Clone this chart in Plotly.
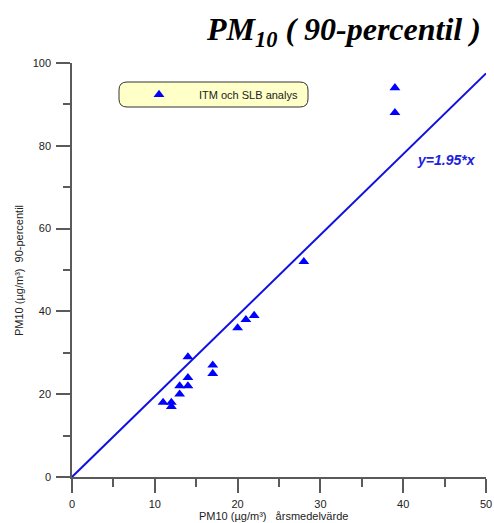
import plotly.graph_objects as go

# Measured PM10: annual mean (x) vs 90th percentile of daily means (y), µg/m³
annual_mean = [11, 12, 12, 13, 13, 14, 14, 14, 17, 17, 20, 21, 22, 28, 39, 39]
percentile_90 = [18, 18, 17, 20, 22, 22, 24, 29, 25, 27, 36, 38, 39, 52, 88, 94]

# Fitted proportional relation
slope = 1.95
fit_x = [0, 50]
fit_y = [slope * v for v in fit_x]

W, H = 494, 523
L, R, T, B = 72, 8, 63, 46
plot_w = W - L - R
plot_h = H - T - B


def px_to_paper(px, py):
    return (px - L) / plot_w, (H - B - py) / plot_h


axis_color = "#5a5a5a"
blue = "#0000ff"

fig = go.Figure()

fig.add_trace(go.Scatter(
    x=fit_x, y=fit_y, mode="lines",
    line=dict(color="#1010e0", width=2),
    showlegend=False, hoverinfo="skip",
))

fig.add_trace(go.Scatter(
    x=annual_mean, y=percentile_90, mode="markers",
    name="ITM och SLB analys",
    marker=dict(symbol="triangle-up", size=9.5, color=blue, line=dict(width=0)),
))

# Rounded legend frame
x0, y0 = px_to_paper(119, 82)
x1, y1 = px_to_paper(308, 107)
r = 8 / plot_w
path = (
    f"M {x0 + r},{y0} L {x1 - r},{y0} Q {x1},{y0} {x1},{y0 - r} "
    f"L {x1},{y1 + r} Q {x1},{y1} {x1 - r},{y1} "
    f"L {x0 + r},{y1} Q {x0},{y1} {x0},{y1 + r} "
    f"L {x0},{y0 - r} Q {x0},{y0} {x0 + r},{y0} Z"
)
fig.add_shape(type="path", path=path, xref="paper", yref="paper",
              fillcolor="#ffffc8", line=dict(color="#333333", width=1), layer="above")

lx, ly = px_to_paper(119, 94.5)

tx, ty = px_to_paper(483, 31)
ax_x, ax_y = px_to_paper(273, 516)
ay_x, ay_y = px_to_paper(19, 270)
eq_x, eq_y = px_to_paper(446.5, 159.5)

fig.update_layout(
    width=W, height=H,
    margin=dict(l=L, r=R, t=T, b=B),
    paper_bgcolor="white", plot_bgcolor="white",
    font=dict(family="Liberation Sans, Arial, sans-serif", size=11, color="#222222"),
    showlegend=True,
    legend=dict(
        x=lx, y=ly, xanchor="left", yanchor="middle",
        bgcolor="rgba(0,0,0,0)", borderwidth=0,
        itemwidth=70, font=dict(size=11, color="#222222"),
        itemclick=False,
    ),
    xaxis=dict(
        range=[0, 50], dtick=10, tick0=0, automargin=False,
        showgrid=False, zeroline=False,
        showline=True, linecolor=axis_color, linewidth=1.5,
        ticks="outside", ticklen=14, tickwidth=1.5, tickcolor=axis_color,
        ticklabelstandoff=2,
        minor=dict(dtick=5, ticks="outside", ticklen=8, tickwidth=1.5, tickcolor=axis_color),
        tickfont=dict(size=11, color="#222222"),
    ),
    yaxis=dict(
        range=[0, 100], dtick=20, tick0=0, automargin=False,
        showgrid=False, zeroline=False,
        showline=True, linecolor=axis_color, linewidth=1.5,
        ticks="outside", ticklen=14, tickwidth=1.5, tickcolor=axis_color,
        ticklabelstandoff=3,
        minor=dict(dtick=10, ticks="outside", ticklen=7, tickwidth=1.5, tickcolor=axis_color),
        tickfont=dict(size=11, color="#222222"),
    ),
    annotations=[
        dict(text="<b><i>PM<sub>10</sub> ( 90-percentil )</i></b>",
             x=tx, y=ty, xref="paper", yref="paper", xanchor="right", yanchor="middle",
             showarrow=False,
             font=dict(family="Liberation Serif, Times New Roman, serif", size=32, color="black")),
        dict(text="PM10 (µg/m³)   årsmedelvärde",
             x=ax_x, y=ax_y, xref="paper", yref="paper", xanchor="center", yanchor="middle",
             showarrow=False, font=dict(size=11, color="#222222")),
        dict(text="PM10 (µg/m³)  90-percentil",
             x=ay_x, y=ay_y, xref="paper", yref="paper", xanchor="center", yanchor="middle",
             textangle=-90, showarrow=False, font=dict(size=11, color="#222222")),
        dict(text=f"<b><i>y={slope}*x</i></b>",
             x=eq_x, y=eq_y, xref="paper", yref="paper", xanchor="center", yanchor="middle",
             showarrow=False, font=dict(size=14, color="#2020dd")),
    ],
)

fig.write_html("out.html")
